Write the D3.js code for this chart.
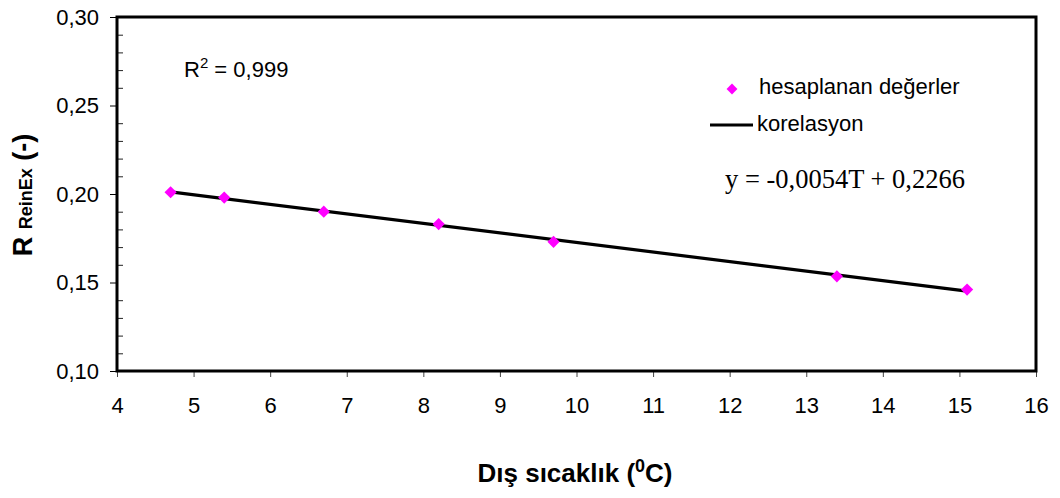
<!DOCTYPE html>
<html><head><meta charset="utf-8">
<script src="https://cdn.jsdelivr.net/npm/d3@7"></script>
<style>body{margin:0;background:#fff}svg{display:block}</style>
</head><body><div id="chart"></div>
<script>
const tempX = [4.7, 5.4, 6.7, 8.2, 9.7, 13.4, 15.1];
const rValues = [0.201, 0.198, 0.190, 0.183, 0.173, 0.1535, 0.146];
const trendX = [4.7, 15.1];
const trendY = [0.2012, 0.1451];
const xTicks = [4,5,6,7,8,9,10,11,12,13,14,15,16];
const yTicks = [0.10, 0.15, 0.20, 0.25, 0.30];
const yMinor = [0.11,0.12,0.13,0.14,0.16,0.17,0.18,0.19,0.21,0.22,0.23,0.24,0.26,0.27,0.28,0.29];

const W = 1060, H = 498;
const m = {l:117, r:24, t:17, b:127};
const svg = d3.select("#chart").append("svg").attr("width", W).attr("height", H);
const x = d3.scaleLinear().domain([4,16]).range([m.l, W - m.r]);
const y = d3.scaleLinear().domain([0.10,0.30]).range([H - m.b, m.t]);
const fmt = d => d3.format(".2f")(d).replace(".", ",");
const font = "Liberation Sans, Arial, sans-serif";
const fs = 22;

// y minor ticks (inside)
svg.append("g").attr("transform", `translate(${m.l},0)`)
  .call(d3.axisRight(y).tickValues(yMinor).tickSize(6).tickFormat(""))
  .call(g => g.select(".domain").remove())
  .call(g => g.selectAll("line").attr("stroke","#222").attr("stroke-width",1));

// y major
svg.append("g").attr("transform", `translate(${m.l},0)`)
  .call(d3.axisLeft(y).tickValues(yTicks).tickSize(7).tickPadding(11).tickFormat(fmt))
  .call(g => g.select(".domain").remove())
  .call(g => g.selectAll("line").attr("stroke","#000").attr("stroke-width",1))
  .call(g => g.selectAll("text").attr("font-family", font).attr("font-size", fs).attr("fill","#000"));

// x axis
svg.append("g").attr("transform", `translate(0,${H - m.b})`)
  .call(d3.axisBottom(x).tickValues(xTicks).tickSize(6).tickPadding(20).tickFormat(d3.format("d")))
  .call(g => g.select(".domain").remove())
  .call(g => g.selectAll("line").attr("stroke","#444").attr("stroke-width",1))
  .call(g => g.selectAll("text").attr("font-family", font).attr("font-size", fs).attr("fill","#000"));

// frame
svg.append("rect").attr("x", m.l).attr("y", m.t).attr("width", W - m.l - m.r).attr("height", H - m.t - m.b)
  .attr("fill","none").attr("stroke","#000").attr("stroke-width",3);

// trend line
svg.append("path").datum(trendX.map((d,i)=>[d, trendY[i]]))
  .attr("d", d3.line().x(d=>x(d[0])).y(d=>y(d[1])))
  .attr("stroke","#000").attr("stroke-width",3.2).attr("fill","none");

// points
const diamond = d3.symbol().type(d3.symbolDiamond2).size(95);
svg.append("g").selectAll("path").data(tempX.map((d,i)=>[d, rValues[i]])).join("path")
  .attr("transform", d => `translate(${x(d[0])},${y(d[1])})`)
  .attr("d", diamond).attr("fill","#ff00ff");

// R2
const r2 = svg.append("text").attr("x", 184).attr("y", 77).attr("font-family", font).attr("font-size", fs).attr("fill","#000");
r2.append("tspan").text("R");
r2.append("tspan").attr("dy", -9).attr("font-size", 15).text("2");
r2.append("tspan").attr("dy", 9).text(" = 0,999");

// legend
svg.append("path").attr("transform","translate(732,89)").attr("d", d3.symbol().type(d3.symbolDiamond2).size(75)).attr("fill","#ff00ff");
svg.append("text").attr("x", 759).attr("y", 94).attr("font-family", font).attr("font-size", fs).text("hesaplanan değerler");
svg.append("line").attr("x1", 710).attr("x2", 753).attr("y1", 125).attr("y2", 125).attr("stroke","#000").attr("stroke-width",3);
svg.append("text").attr("x", 757).attr("y", 131).attr("font-family", font).attr("font-size", fs).text("korelasyon");

// equation
svg.append("text").attr("x", 725).attr("y", 188).attr("font-family", "Liberation Serif, Times New Roman, serif").attr("font-size", 26.5).text("y = -0,0054T + 0,2266");

// y title
const yt = svg.append("text").attr("transform", "translate(32,195) rotate(-90)").attr("text-anchor","middle")
  .attr("font-family", font).attr("font-weight","bold").attr("font-size", 27);
yt.append("tspan").text("R ");
yt.append("tspan").attr("font-size", 18).text("ReinEx");
yt.append("tspan").text(" (-)");

// x title
const xt = svg.append("text").attr("x", 575).attr("y", 482).attr("text-anchor","middle")
  .attr("font-family", font).attr("font-weight","bold").attr("font-size", 26);
xt.append("tspan").text("Dış sıcaklık (");
xt.append("tspan").attr("dy", -10).attr("font-size", 18).text("0");
xt.append("tspan").attr("dy", 10).text("C)");
</script></body></html>
